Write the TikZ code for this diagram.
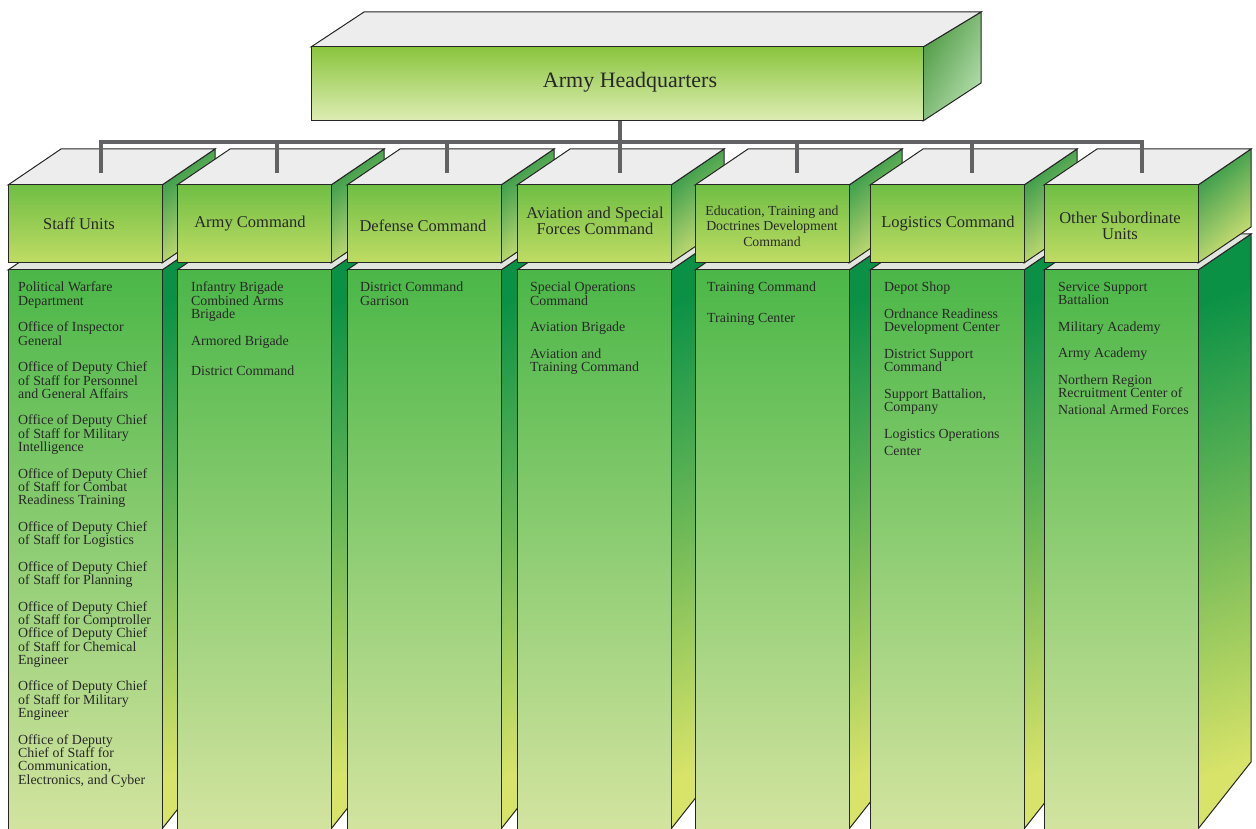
\documentclass[tikz,border=0pt]{standalone}
\usepackage{fontspec}
\setmainfont{Liberation Serif}
\definecolor{topgray}{RGB}{237,237,237}
\definecolor{bandgray}{RGB}{226,228,222}
\definecolor{edgecol}{RGB}{38,38,38}
\definecolor{hfTop}{RGB}{112,190,68}
\definecolor{hfBot}{RGB}{192,220,100}
\definecolor{hqTop}{RGB}{138,197,62}
\definecolor{hqBot}{RGB}{222,237,180}
\definecolor{sideDark}{RGB}{45,150,72}
\definecolor{sideLight}{RGB}{214,227,118}
\definecolor{hqSideDark}{RGB}{80,155,70}
\definecolor{hqSideLight}{RGB}{182,223,174}
\definecolor{bfTop}{RGB}{75,183,72}
\definecolor{bfBot}{RGB}{212,228,160}
\definecolor{bsTop}{RGB}{10,145,70}
\definecolor{bsBot}{RGB}{216,227,105}
\definecolor{conncol}{RGB}{98,98,100}
\definecolor{txtcol}{RGB}{40,40,40}
\tikzset{
  outl/.style={draw=edgecol,line width=1pt,line join=miter},
  topface/.style={outl,fill=topgray},
  bandface/.style={outl,fill=bandgray},
  hfront/.style={outl,top color=hfTop,bottom color=hfBot},
  hside/.style={outl,top color=sideDark,bottom color=sideLight,shading angle=40},
  bfront/.style={outl,top color=bfTop,bottom color=bfBot},
  bside/.style={outl,top color=bsTop,bottom color=bsBot,shading angle=20},
  connector/.style={draw=conncol,line width=4.5pt},
  headtxt/.style={inner sep=0pt,align=center,text=txtcol,font=\fontsize{16.5}{16}\selectfont},
  bodytxt/.style={anchor=north west,inner sep=0pt,align=left,text=txtcol,font=\fontsize{13.9}{13.3}\selectfont},
}
\newcommand\orgcol[1]{%
  \pgfmathsetmacro\cL{#1}%
  \pgfmathsetmacro\cLd{#1+53}%
  \pgfmathsetmacro\cR{#1+154}%
  \pgfmathsetmacro\cRd{#1+207}%
  % body
  \path[bside] (\cR,270) -- (\cRd,234) -- (\cRd,762) -- (\cR,829) -- cycle;
  \path[bandface] (\cL,270) -- (\cLd,234) -- (\cRd,234) -- (\cR,270) -- cycle;
  \path[bfront] (\cL,270) rectangle (\cR,834);
  % header
  \path[hside] (\cR,185) -- (\cRd,149) -- (\cRd,227) -- (\cR,263) -- cycle;
  \path[topface] (\cL,185) -- (\cLd,149) -- (\cRd,149) -- (\cR,185) -- cycle;
  \path[hfront] (\cL,185) rectangle (\cR,263);
}
\begin{document}
\begin{tikzpicture}[x=1pt,y=-1pt]
\useasboundingbox (0,0) rectangle (1256,829);
\clip (0,0) rectangle (1256,829);
% Headquarters box
\path[outl,top color=hqSideDark,bottom color=hqSideLight,shading angle=60] (923,47) -- (981,12) -- (981,83) -- (923,121) -- cycle;
\path[topface] (311,47) -- (364,12) -- (981,12) -- (923,47) -- cycle;
\path[outl,top color=hqTop,bottom color=hqBot] (311,47) rectangle (923,121);
\node[inner sep=0pt,text=txtcol,font=\fontsize{22}{26}\selectfont] (hq) at (630,82) {Army Headquarters};
% columns
\orgcol{8}
\orgcol{177}
\orgcol{347}
\orgcol{517}
\orgcol{695}
\orgcol{870}
\orgcol{1044}
% header texts
\node[headtxt] (h1) at (79,224) {Staff Units};
\node[headtxt] (h2) at (250,224) {Army Command};
\node[headtxt] (h3) at (423,226) {Defense Command};
\node[headtxt] (h4) at (595,221) {Aviation and Special\\Forces Command};
\node[headtxt,font=\fontsize{13.8}{15.5}\selectfont] (h5) at (772,226) {Education, Training and\\Doctrines Development\\Command};
\node[headtxt] (h6) at (948,224) {Logistics Command};
\node[headtxt] (h7) at (1120,226) {Other Subordinate\\Units};
% body texts
\node[bodytxt] (b1) at (18,282) {Political Warfare\\Department\\[13.3pt]
Office of Inspector\\General\\[13.3pt]
Office of Deputy Chief\\of Staff for Personnel\\and General Affairs\\[13.3pt]
Office of Deputy Chief\\of Staff for Military\\Intelligence\\[13.3pt]
Office of Deputy Chief\\of Staff for Combat\\Readiness Training\\[13.3pt]
Office of Deputy Chief\\of Staff for Logistics\\[13.3pt]
Office of Deputy Chief\\of Staff for Planning\\[13.3pt]
Office of Deputy Chief\\of Staff for Comptroller\\Office of Deputy Chief\\of Staff for Chemical\\Engineer\\[13.3pt]
Office of Deputy Chief\\of Staff for Military\\Engineer\\[13.3pt]
Office of Deputy\\Chief of Staff for\\Communication,\\Electronics, and Cyber};
\node[bodytxt] (b2) at (191,282) {Infantry Brigade\\Combined Arms\\Brigade\\[13.3pt]Armored Brigade\\[17pt]District Command};
\node[bodytxt] (b3) at (360,282) {District Command\\Garrison};
\node[bodytxt] (b4) at (530,282) {Special Operations\\Command\\[13.3pt]Aviation Brigade\\[13.3pt]Aviation and\\Training Command};
\node[bodytxt] (b5) at (707,282) {Training Command\\[17.7pt]Training Center};
\node[bodytxt] (b6) at (884,282) {Depot Shop\\[13.3pt]Ordnance Readiness\\Development Center\\[13.3pt]District Support\\Command\\[13.3pt]Support Battalion,\\Company\\[13.3pt]Logistics Operations\\[3.7pt]Center};
\node[bodytxt] (b7) at (1058,282) {Service Support\\Battalion\\[13.3pt]Military Academy\\[13.3pt]Army Academy\\[13.3pt]Northern Region\\Recruitment Center of\\[3.5pt]National Armed Forces};
% connectors
\coordinate (hqb) at (620,121);
\coordinate (j) at (620,142);
\coordinate (d1) at (101,173);
\coordinate (d2) at (277,173);
\coordinate (d3) at (447,173);
\coordinate (d4) at (620,173);
\coordinate (d5) at (797,173);
\coordinate (d6) at (972,173);
\coordinate (d7) at (1142,173);
\draw[connector] (hqb) -- (j);
\draw[connector] (d1) |- (j) -| (d7);
\draw[connector] (d2) -- (d2|-j);
\draw[connector] (d3) -- (d3|-j);
\draw[connector] (d4) -- (j);
\draw[connector] (d5) -- (d5|-j);
\draw[connector] (d6) -- (d6|-j);
\end{tikzpicture}
\end{document}
